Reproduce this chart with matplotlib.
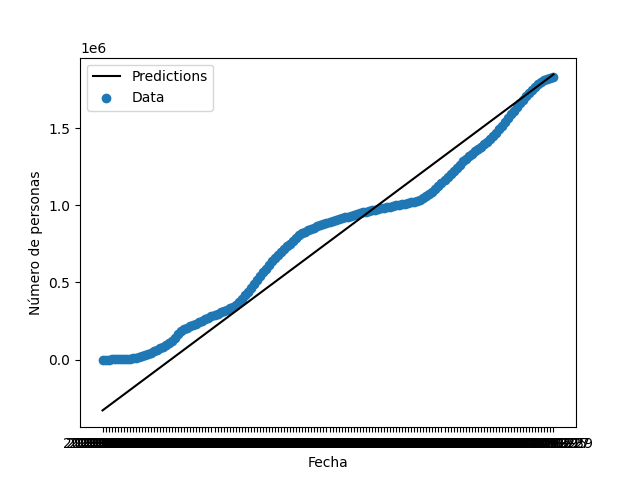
import numpy as np
import pandas as pd
import matplotlib
matplotlib.use("Agg")
import matplotlib.pyplot as plt

values_k = [0,0,0,1,1,1,2,2,
4,6,9,13,17,22,28,35,45,55,63,72,82,95,108,122,140,165,185,
195,205,215,225,232,242,252,262,272,282,290,298,306,314,322,
332,342,355,372,395,418,440,462,488,515,540,565,590,615,640,
660,680,700,718,735,752,770,790,808,820,830,840,848,856,864,
871,878,885,892,898,904,910,916,922,928,934,940,946,951,956,
960,964,968,972,976,980,984,988,992,996,1000,1004,1008,1012,1016,
1020,1025,1030,1036,1045,1058,1072,1088,1105,1124,1145,1165,1185,1205,1225,
1245,1265,1285,1302,1318,1334,1350,1366,1382,1398,1414,1430,1450,1472,1495,
1518,1542,1566,1590,1614,1638,1662,1686,1710,1732,1752,1770,1788,1802,1812,
1820,1826,1832]
values = np.array(values_k) * 1000.0
dates = [d.strftime("%Y-%m-%d") for d in pd.date_range("2020-03-06", periods=len(values), freq="2D")]

# model predictions (linear model)
pred_start, pred_end = -330000.0, 1850000.0
pred = np.linspace(pred_start, pred_end, len(values))

fig, ax = plt.subplots(figsize=(6.4, 4.8), dpi=100)
ax.plot(dates, pred, color="black", label="Predictions")
ax.scatter(dates, values, label="Data")
ax.set_xlabel("Fecha")
ax.set_ylabel("Número de personas")
ax.legend(loc="upper left")
fig.savefig("out.png")
